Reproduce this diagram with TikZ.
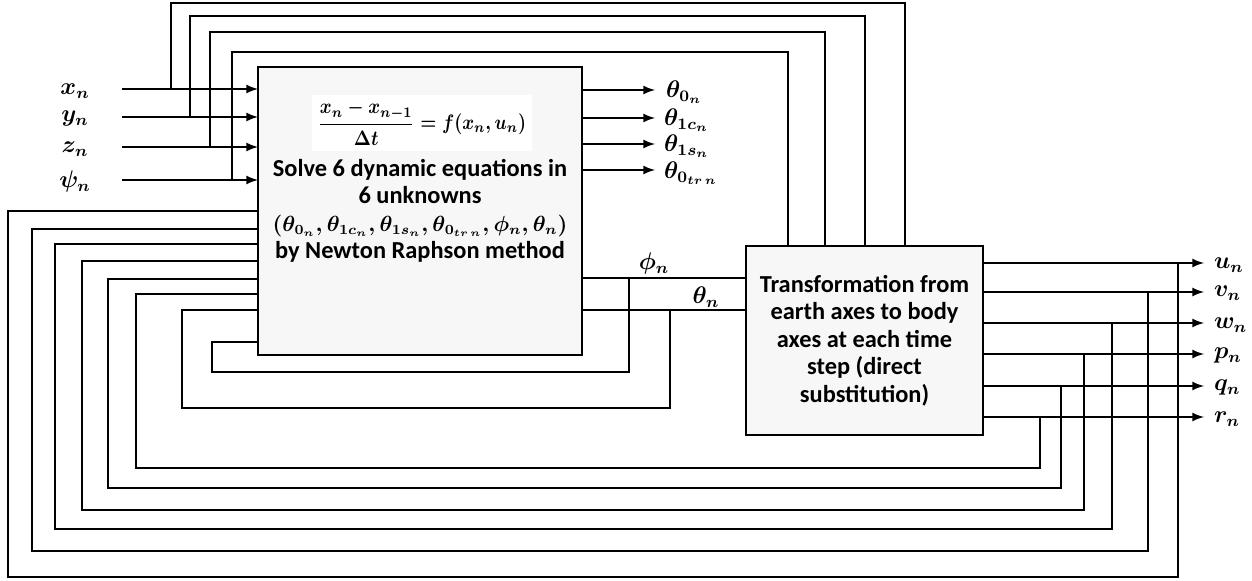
\documentclass[tikz,border=0pt]{standalone}
\usepackage{amsmath}
\usepackage{amssymb}
\usepackage{fontspec}
\setmainfont{Carlito}
\usepackage{tikz}
\usetikzlibrary{arrows}

\begin{document}
\begin{tikzpicture}[y=0.50pt, x=0.50pt, yscale=-1, inner sep=0pt, outer sep=0pt,
  line width=1pt,
  blockbox/.style={draw=black, fill=black!3, line width=1.1pt},
  blocktext/.style={align=center, font=\fontsize{12.2}{13.7}\selectfont\bfseries\boldmath},
  wire/.style={draw=black, line join=miter},
  feed/.style={wire, -latex},
  lbl/.style={font=\fontsize{11.5}{13}\selectfont\boldmath}]
\useasboundingbox (0,0) rectangle (1252,581);

% the two blocks
\node[blockbox, minimum width=162pt, minimum height=144pt] (solver) at (420,211) {};
\node[fill=white, inner sep=3pt, font=\fontsize{10}{12}\selectfont\boldmath] (eqn)
  at (422,123) {\scalebox{0.9}[1.05]{$\dfrac{x_n-x_{n-1}}{\Delta t}=f(x_n,u_n)$}};
\node[blocktext] (solvetext) at (solver.center) {Solve 6 dynamic equations in\\6 unknowns\\
  {\fontsize{10.6}{13.7}\selectfont$(\theta_{0_n},\theta_{1c_n},\theta_{1s_n},\theta_{0_{tr\,n}},\phi_n,\theta_n)$}\\by Newton Raphson method};
\node[blockbox, blocktext, minimum width=118.5pt, minimum height=94.5pt] (transform)
  at (864.5,340.5) {Transformation from\\earth axes to body\\axes at each time\\step (direct\\substitution)};

% inputs
\coordinate (xin) at (122,89);
\coordinate (yin) at (122,117);
\coordinate (zin) at (122,147);
\coordinate (psiin) at (122,180);
\node[lbl] (xn) at (75,91) {$x_n$};
\node[lbl] (yn) at (75,119) {$y_n$};
\node[lbl] (zn) at (75,149) {$z_n$};
\node[lbl] (psin) at (75,182) {$\psi_n$};
\draw[feed] (xin) -- (xin -| solver.west);
\draw[feed] (yin) -- (yin -| solver.west);
\draw[feed] (zin) -- (zin -| solver.west);
\draw[feed] (psiin) -- (psiin -| solver.west);

% feedback over the top
\coordinate (xjoin) at (171,89);
\coordinate (yjoin) at (190,117);
\coordinate (zjoin) at (210,147);
\coordinate (psijoin) at (232,180);
\coordinate (xtap) at (905,246);
\coordinate (ytap) at (865,246);
\coordinate (ztap) at (825,246);
\coordinate (psitap) at (788,246);
\draw[wire] (xtap) -- ++(0,-243) -| (xjoin);
\draw[wire] (ytap) -- ++(0,-230) -| (yjoin);
\draw[wire] (ztap) -- ++(0,-214) -| (zjoin);
\draw[wire] (psitap) -- ++(0,-194) -| (psijoin);

% controls out of the solver
\coordinate (th0) at (655,90);
\coordinate (th1c) at (655,118);
\coordinate (th1s) at (655,144);
\coordinate (th0tr) at (655,170);
\draw[feed] (th0 -| solver.east) -- (th0);
\draw[feed] (th1c -| solver.east) -- (th1c);
\draw[feed] (th1s -| solver.east) -- (th1s);
\draw[feed] (th0tr -| solver.east) -- (th0tr);
\node[lbl, anchor=west] (th0lbl) at (666,92) {$\theta_{0_n}$};
\node[lbl, anchor=west] (th1clbl) at (664,120) {$\theta_{1c_n}$};
\node[lbl, anchor=west] (th1slbl) at (664,146) {$\theta_{1s_n}$};
\node[lbl, anchor=west] (th0trlbl) at (664,173) {$\theta_{0_{tr\,n}}$};

% attitude angles
\coordinate (phij) at (629,278);
\coordinate (thj) at (670,310);
\coordinate (phiback) at (212,342);
\coordinate (thback) at (182,310);
\draw[wire] (phij -| solver.east) -- (phij -| transform.west);
\draw[wire] (thj -| solver.east) -- (thj -| transform.west);
\node[lbl] (philbl) at (654,264) {$\phi_n$};
\node[lbl] (thlbl) at (706,297) {$\theta_n$};
\draw[wire] (phij) -- ++(0,94) -| (phiback) -- (phiback -| solver.west);
\draw[wire] (thj) -- ++(0,98) -| (thback) -- (thback -| solver.west);

% body velocities and rates
\coordinate (utip) at (1204,263);
\coordinate (vtip) at (1204,292);
\coordinate (wtip) at (1204,323);
\coordinate (ptip) at (1204,354);
\coordinate (qtip) at (1204,386);
\coordinate (rtip) at (1204,417);
\draw[feed] (utip -| transform.east) -- (utip);
\draw[feed] (vtip -| transform.east) -- (vtip);
\draw[feed] (wtip -| transform.east) -- (wtip);
\draw[feed] (ptip -| transform.east) -- (ptip);
\draw[feed] (qtip -| transform.east) -- (qtip);
\draw[feed] (rtip -| transform.east) -- (rtip);
\node[lbl, anchor=west] (unlbl) at (1214,265) {$u_n$};
\node[lbl, anchor=west] (vnlbl) at (1214,293) {$v_n$};
\node[lbl, anchor=west] (wnlbl) at (1214,325) {$w_n$};
\node[lbl, anchor=west] (pnlbl) at (1214,356) {$p_n$};
\node[lbl, anchor=west] (qnlbl) at (1214,388) {$q_n$};
\node[lbl, anchor=west] (rnlbl) at (1214,419) {$r_n$};

% feedback round the bottom
\coordinate (ujoin) at (1178,263);
\coordinate (vjoin) at (1148,292);
\coordinate (wjoin) at (1112,323);
\coordinate (pjoin) at (1084,354);
\coordinate (qjoin) at (1061,386);
\coordinate (rjoin) at (1040,417);
\coordinate (uback) at (8,211);
\coordinate (vback) at (32,229);
\coordinate (wback) at (55,244);
\coordinate (pback) at (82,261);
\coordinate (qback) at (108,279);
\coordinate (rback) at (136,294);
\draw[wire] (ujoin) -- ++(0,314) -| (uback) -- (uback -| solver.west);
\draw[wire] (vjoin) -- ++(0,259) -| (vback) -- (vback -| solver.west);
\draw[wire] (wjoin) -- ++(0,206) -| (wback) -- (wback -| solver.west);
\draw[wire] (pjoin) -- ++(0,156) -| (pback) -- (pback -| solver.west);
\draw[wire] (qjoin) -- ++(0,102) -| (qback) -- (qback -| solver.west);
\draw[wire] (rjoin) -- ++(0,51) -| (rback) -- (rback -| solver.west);

\end{tikzpicture}
\end{document}
